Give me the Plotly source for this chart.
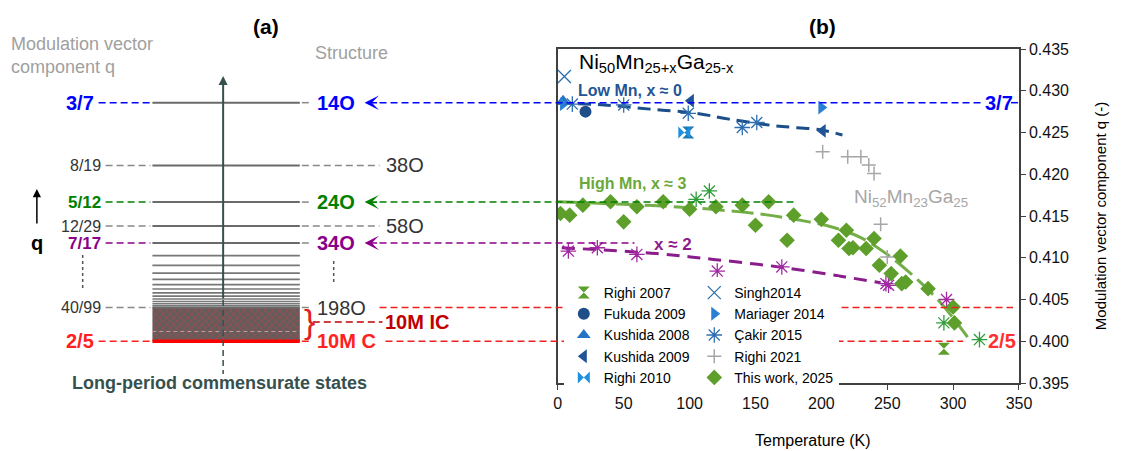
import plotly.graph_objects as go
from fractions import Fraction

FONT = "Liberation Sans, Arial, sans-serif"

# ---------------- panel (b) data ----------------
this_work_T = [2, 9, 19, 40, 50, 60, 80, 100, 120, 140, 150, 160, 174, 179, 200, 213,
               219, 221, 224, 234, 240, 244, 253, 260, 261, 264, 281, 300, 301]
this_work_q = [0.4153, 0.4151, 0.4163, 0.4167, 0.4143, 0.4161, 0.4167, 0.4158, 0.4161, 0.4163,
               0.4139, 0.4167, 0.4121, 0.4151, 0.4146, 0.4121, 0.4133, 0.4111, 0.4112, 0.4111,
               0.4123, 0.4091, 0.4081, 0.4102, 0.4069, 0.4071, 0.4063, 0.4041, 0.4022]

cakir_low_T = [11, 50, 99, 140, 151]
cakir_low_q = [0.4284, 0.4283, 0.4273, 0.4256, 0.4262]
cakir_x2_T = [8, 30, 60, 121, 170, 249, 251, 295]
cakir_x2_q = [0.4108, 0.4112, 0.4104, 0.4084, 0.4089, 0.4069, 0.4067, 0.4050]
cakir_x3_T = [105, 115, 293, 320]
cakir_x3_q = [0.4170, 0.4180, 0.4022, 0.4002]

righi2007_green_T = [293]
righi2007_green_q = [0.3991]
righi2007_blue_T = [99]
righi2007_blue_q = [0.4250]
righi2010_T = [96]
righi2010_q = [0.4250]
fukuda_T = [21]
fukuda_q = [0.4275]
kushida2008_T = [4]
kushida2008_q = [0.4288]
kushida2009_T = [101, 201]
kushida2009_q = [0.4288, 0.4252]
mariager_T = [4, 200]
mariager_q = [0.4284, 0.4280]
singh_T = [5]
singh_q = [0.4317]
righi2021_T = [201, 220, 230, 236, 240, 245, 250]
righi2021_q = [0.4227, 0.4221, 0.4221, 0.4211, 0.4201, 0.4140, 0.4101]

# dashed fit curves
lowmn_fit_T = [0, 35, 70, 105, 130, 165, 200, 216]
lowmn_fit_q = [0.4285, 0.4283, 0.4278, 0.4273, 0.4266, 0.4258, 0.4253, 0.4247]
highmn_fit_T = [0, 50, 100, 150, 180, 210, 230, 250, 270, 290, 311]
highmn_fit_q = [0.4167, 0.4164, 0.4160, 0.4153, 0.4146, 0.4136, 0.4124, 0.4104, 0.4078, 0.4047, 0.4005]
x2_fit_T = [3, 75, 118, 168, 218, 245]
x2_fit_q = [0.4112, 0.4105, 0.4098, 0.4089, 0.4077, 0.4070]

x_ticks = [0, 50, 100, 150, 200, 250, 300, 350]
y_ticks = [0.395, 0.400, 0.405, 0.410, 0.415, 0.420, 0.425, 0.430, 0.435]

# ---------------- panel (a) data ----------------
level_fracs = ["3/7", "8/19", "5/12", "12/29", "7/17", "40/99", "2/5"]
level_structs = ["14O", "38O", "24O", "58O", "34O", "198O", "10M C"]
level_colors = ["#0000ff", "#444444", "#008000", "#444444", "#8b008b", "#444444", "#ff2020"]
level_main = [True, False, True, False, True, False, True]
dense_fracs = ["16/39", "9/22", "20/49", "11/27", "24/59", "13/32", "28/69",
               "15/37", "32/79", "17/42", "36/89", "19/47"]

def qv(s):
    return float(Fraction(s))

# ---------------- geometry ----------------
W, H = 1124, 451
ML, MR, MT, MB = 0, 105, 49, 68
PW = W - ML - MR
PH = H - MT - MB

def px(x):
    return x / PW

def py(y):
    return (H - MB - y) / PH

fig = go.Figure()

# hatched incommensurate region (panel a)
q_top = qv("40/99")
q_bot = qv("2/5")
fig.add_trace(go.Scatter(
    x=[149, 297, 297, 149, 149], y=[q_top, q_top, q_bot, q_bot, q_top],
    xaxis="x2", yaxis="y", mode="lines", fill="toself",
    line=dict(width=0, color="rgba(0,0,0,0)"),
    fillcolor="#5e5e5e",
    fillpattern=dict(shape="x", fgcolor="#d83a3a", bgcolor="#5e5e5e", size=5, solidity=0.35),
    showlegend=False, hoverinfo="skip"))

# fit curves
fig.add_trace(go.Scatter(x=lowmn_fit_T, y=lowmn_fit_q, mode="lines",
                         line=dict(color="#1c4f8a", width=3, dash="13px,7px", shape="spline"),
                         showlegend=False, hoverinfo="skip"))
fig.add_trace(go.Scatter(x=highmn_fit_T, y=highmn_fit_q, mode="lines",
                         line=dict(color="#74ae46", width=3, dash="22px,7px", shape="spline"),
                         showlegend=False, hoverinfo="skip"))
fig.add_trace(go.Scatter(x=x2_fit_T, y=x2_fit_q, mode="lines",
                         line=dict(color="#8b1c8b", width=3, dash="13px,8px", shape="spline"),
                         showlegend=False, hoverinfo="skip"))

def mk(T, q, name, symbol, color, size=12, legend="legend", show=True, lw=0):
    m = dict(symbol=symbol, size=size, color=color)
    if lw:
        m["line"] = dict(width=lw, color=color)
    else:
        m["line"] = dict(width=0)
    fig.add_trace(go.Scatter(x=T, y=q, mode="markers", name=name, marker=m,
                             legend=legend, showlegend=show))

# non-legend duplicates first
mk(cakir_x2_T, cakir_x2_q, "Çakir 2015", "asterisk-open", "#a12aa3", 13, "legend2", False, 1.3)
mk(cakir_x3_T, cakir_x3_q, "Çakir 2015", "asterisk-open", "#2e9e3a", 13, "legend2", False, 1.3)
mk(righi2007_blue_T, righi2007_blue_q, "Righi 2007", "hourglass", "#1a7ab5", 12, "legend", False)

# legend column 1
mk(righi2007_green_T, righi2007_green_q, "Righi 2007", "hourglass", "#5e9f2c", 12, "legend")
mk(fukuda_T, fukuda_q, "Fukuda 2009", "circle", "#1f4e88", 12, "legend")
mk(kushida2008_T, kushida2008_q, "Kushida 2008", "triangle-up", "#2673c4", 12, "legend")
mk(kushida2009_T, kushida2009_q, "Kushida 2009", "triangle-left", "#1f5596", 12, "legend")
mk(righi2010_T, righi2010_q, "Righi 2010", "bowtie", "#1e90e0", 12, "legend")
# legend column 2
mk(singh_T, singh_q, "Singh2014", "x-thin-open", "#2e6fb0", 13, "legend2", True, 1.3)
mk(mariager_T, mariager_q, "Mariager 2014", "triangle-right", "#2a7fd4", 12, "legend2")
mk(cakir_low_T, cakir_low_q, "Çakir 2015", "asterisk-open", "#2e6fb0", 13, "legend2", True, 1.3)
mk(righi2021_T, righi2021_q, "Righi 2021", "cross-thin-open", "#a6a6a6", 10, "legend2", True, 1.5)
mk(this_work_T, this_work_q, "This work, 2025", "diamond", "#5e9f2c", 12, "legend2")

shapes = []
annotations = []

def seg(x0, x1, q, color, width=1.5, dash="7px,4px"):
    shapes.append(dict(type="line", xref="paper", yref="y", x0=px(x0), x1=px(x1),
                       y0=q, y1=q, line=dict(color=color, width=width, dash=dash), layer="above"))

def pseg(x0, y0, x1, y1, color, width=1.5, dash="7px,4px"):
    shapes.append(dict(type="line", xref="paper", yref="paper", x0=px(x0), x1=px(x1),
                       y0=py(y0), y1=py(y1), line=dict(color=color, width=width, dash=dash),
                       layer="above"))

def txt(x, y, s, size, color="#333333", bold=False, xanchor="center", qref=False, **kw):
    if bold:
        s = "<b>" + s + "</b>"
    annotations.append(dict(x=px(x), y=(y if qref else py(y)), xref="paper",
                            yref=("y" if qref else "paper"), text=s, showarrow=False,
                            xanchor=xanchor, yanchor="middle",
                            font=dict(size=size, color=color, family=FONT), **kw))

def arrowhead_left(x, q, color):
    annotations.append(dict(x=px(x), y=q, xref="paper", yref="y", ax=14, ay=0, text="",
                            showarrow=True, arrowhead=3, arrowsize=1.5, arrowwidth=1.6,
                            arrowcolor=color, standoff=0))

# dense levels (panel a)
for f in dense_fracs:
    seg(149, 297, qv(f), "#777777", 1.6, "solid")

right_ends = {"3/7": 981, "5/12": 793, "7/17": 633}
for f, st, col, main in zip(level_fracs, level_structs, level_colors, level_main):
    q = qv(f)
    if f == "2/5":
        seg(149, 297, q, "#ff0000", 3.5, "solid")
    else:
        seg(149, 297, q, "#6a6a6a", 2, "solid")
    if main:
        big = f in ("3/7", "2/5")
        xr = 92 if big else 99
        txt(xr, q, f, 20 if big else 17, col, True, "right", qref=True)
        seg(xr + 3, 147, q, col)
        seg(299, 306, q, "#ff2020" if f == "2/5" else "#888888")
        txt(312, q, st, 20, col, True, "left", qref=True)
        if f in right_ends:
            arrowhead_left(362, q, col)
            seg(377, right_ends[f], q, col)
    else:
        txt(99, q, f, 16, "#333333", False, "right", qref=True)
        seg(102, 147, q, "#888888")
        if f == "40/99":
            seg(299, 307, q, "#888888")
            txt(312, q, st, 20, "#333333", False, "left", qref=True)
        else:
            seg(299, 377, q, "#888888")
            txt(381, q, st, 20, "#333333", False, "left", qref=True)

# long red lines to panel (b)
seg(377, 1013, qv("40/99"), "#ee2020")
seg(383, 963, qv("2/5"), "#ee2020")
txt(1018, qv("2/5"), "2/5", 20, "#ff3030", True, "right", qref=True)
txt(983, qv("3/7"), "3/7", 20, "#0000ff", True, "left", qref=True)
seg(1011, 1019, qv("3/7"), "#0000ff")

# incommensurate 10M IC
pseg(149, 331.5, 297, 331.5, "#b0a0a0", 1, "4px,3px")
pseg(310, 322, 380, 322, "#c00000")
txt(307, 321, "}", 34, "#e02020", False, "center")
txt(380, 322, "10M IC", 20, "#c00000", True, "left")

# vertical arrow
annotations.append(dict(x=px(220), y=py(76), xref="paper", yref="paper", ax=0, ay=224,
                        text="", showarrow=True, arrowhead=2, arrowsize=0.9, arrowwidth=2,
                        arrowcolor="#36504e", standoff=0))
pseg(220, 300, 220, 374, "#36504e", 1.5, "6px,4px")

# q arrow
annotations.append(dict(x=px(33), y=py(189), xref="paper", yref="paper", ax=0, ay=36,
                        text="", showarrow=True, arrowhead=2, arrowsize=1.1, arrowwidth=1.5,
                        arrowcolor="#000000", standoff=0))
txt(33, 243, "q", 20, "#000000", True)

# dotted ellipsis lines
pseg(79, 255, 79, 291, "#555555", 1.5, "dot")
pseg(331, 261, 331, 284, "#555555", 1.5, "dot")

# headers panel (a)
txt(263, 26, "(a)", 21, "#000000", True)
txt(822, 26, "(b)", 21, "#000000", True)
txt(5, 55, "Modulation vector<br>component q", 18, "#a0a0a0", False, "left", align="left")
txt(310, 53, "Structure", 18, "#a0a0a0", False, "left")
txt(216, 383, "Long-period commensurate states", 18, "#36504e", True)

# panel (b) texts
txt(575, 63, "Ni<sub>50</sub>Mn<sub>25+x</sub>Ga<sub>25-x</sub>", 21, "#000000", False, "left")
txt(574, 90, "Low Mn, x ≈ 0", 16, "#1f5596", True, "left")
txt(575, 183, "High Mn, x ≈ 3", 16, "#6aa83a", True, "left")
txt(651, 244, "x ≈ 2", 17, "#8b1c8b", True, "left")
txt(851, 198, "Ni<sub>52</sub>Mn<sub>23</sub>Ga<sub>25</sub>", 19, "#a6a6a6", False, "left")

# axis titles
txt(812, 440, "Temperature (K)", 16, "#000000")
annotations.append(dict(x=px(1111), y=py(216), xref="paper", yref="paper",
                        text="Modulation vector component q (-)", showarrow=False,
                        textangle=-90, font=dict(size=15, color="#000000", family=FONT)))

fig.update_layout(
    width=W, height=H,
    margin=dict(l=ML, r=MR, t=MT, b=MB, pad=0),
    paper_bgcolor="white", plot_bgcolor="rgba(0,0,0,0)",
    font=dict(family=FONT, color="#000000"),
    shapes=shapes, annotations=annotations,
    xaxis=dict(domain=[556 / PW, 1], range=[0, 350], tickvals=x_ticks,
               showline=True, linecolor="#404040", linewidth=1.5, mirror=True,
               ticks="outside", ticklen=5, tickcolor="#404040", showgrid=False,
               zeroline=False, tickfont=dict(size=16, family=FONT, color="#111")),
    yaxis=dict(domain=[0, 1], range=[0.395, 0.435], tickvals=y_ticks, tickformat=".3f",
               side="right", anchor="x", showline=True, linecolor="#404040",
               linewidth=1.5, mirror=True, ticks="outside", ticklen=5,
               tickcolor="#404040", showgrid=False, zeroline=False,
               tickfont=dict(size=16, family=FONT, color="#111")),
    xaxis2=dict(domain=[0, 0.5], range=[0, 0.5 * PW], visible=False, anchor="y",
                fixedrange=True),
    legend=dict(x=px(562), y=py(277), xanchor="left", yanchor="top", bgcolor="white",
                font=dict(size=14, family=FONT), tracegroupgap=0, itemwidth=30),
    legend2=dict(x=px(693), y=py(277), xanchor="left", yanchor="top", bgcolor="white",
                 font=dict(size=14, family=FONT), tracegroupgap=0, itemwidth=30),
)

fig.write_html("out.html", config={"displayModeBar": False},
               post_script="document.body.style.margin='0px';document.body.style.overflow='hidden';")
